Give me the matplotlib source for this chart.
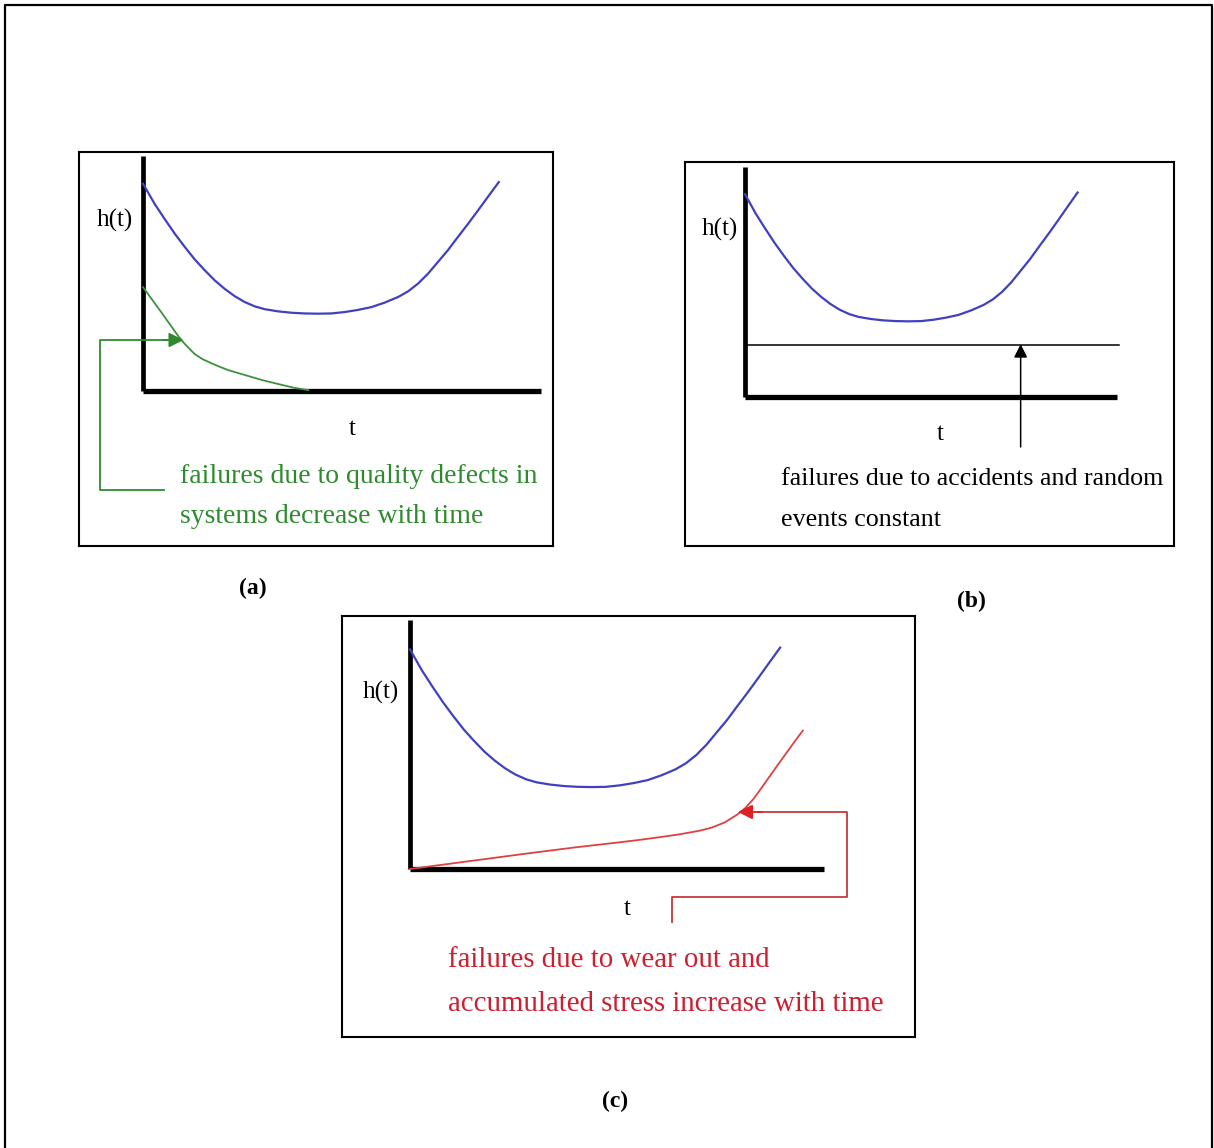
import matplotlib
matplotlib.use("Agg")
import matplotlib.pyplot as plt
from matplotlib.lines import Line2D

# ---- data (t and h in axis units: each drawn axis runs from 0 to 10) ----
# bathtub hazard curve, common to all three panels
bathtub_t = [0.0, 0.29, 0.54, 0.80, 1.05, 1.30, 1.55, 1.80, 2.05, 2.30,
             2.55, 2.81, 3.06, 3.39, 3.73, 4.06, 4.40, 4.73, 5.07, 5.40,
             5.74, 6.07, 6.41, 6.66, 6.91, 7.16, 7.41, 7.66, 7.91, 8.17,
             8.42, 8.67, 8.94]
bathtub_h = [8.82, 7.97, 7.33, 6.69, 6.13, 5.60, 5.14, 4.71, 4.35, 4.04,
             3.79, 3.60, 3.48, 3.39, 3.33, 3.30, 3.29, 3.30, 3.36, 3.45,
             3.57, 3.76, 4.00, 4.24, 4.57, 4.99, 5.49, 5.99, 6.55, 7.12,
             7.69, 8.27, 8.89]

# (a) early failures from quality defects, decreasing with time
defects_t = [0.0, 0.25, 0.46, 0.67, 0.88, 1.00, 1.09, 1.20, 1.30, 1.50,
             1.72, 1.93, 2.14, 2.56, 2.98, 3.39, 3.81, 4.15]
defects_h = [4.42, 3.84, 3.35, 2.85, 2.35, 2.10, 1.93, 1.74, 1.57, 1.35,
             1.18, 1.03, 0.89, 0.68, 0.47, 0.30, 0.13, 0.04]

# (b) random failures, constant rate
random_t = [0.0, 10.05]
random_h = [2.26, 2.26]

# (c) wear-out failures, increasing with time
wear_t = [0.0, 1.0, 2.0, 3.0, 4.0, 5.0, 5.5, 6.0, 6.5, 7.0,
          7.3, 7.6, 7.9, 8.1, 8.3, 8.5, 8.7, 8.9, 9.1, 9.3, 9.49]
wear_h = [0.0, 0.22, 0.44, 0.66, 0.87, 1.06, 1.16, 1.27, 1.39, 1.54,
          1.67, 1.87, 2.18, 2.45, 2.82, 3.28, 3.75, 4.22, 4.68, 5.14, 5.56]

axis_len = 10.0

captions = {
    "a": ["failures due to quality defects in", "systems decrease with time"],
    "b": ["failures due to accidents and random", "events constant"],
    "c": ["failures due to wear out and", "accumulated stress increase with time"],
}

# ---- styling ----
W, H = 1214, 1148
SERIF = ["Liberation Serif", "DejaVu Serif"]
BLUE = "#4040c0"
GREEN_LINE = "#3f8f3f"
GREEN_PATH = "#2f8a2f"
GREEN_TEXT = "#2f8a2f"
RED_LINE = "#e04040"
RED_PATH = "#c83838"
RED_HEAD = "#e02020"
RED_TEXT = "#cc2030"

fig = plt.figure(figsize=(W / 100, H / 100), dpi=100)
fig.patch.set_facecolor("white")

# outer frame (left, top, right)
fig.add_artist(Line2D([5 / W, 5 / W, 1212 / W, 1212 / W],
                      [0, 1 - 5 / H, 1 - 5 / H, 0],
                      transform=fig.transFigure, color="black", lw=1.6))


def make_panel(box, origin, axis_end):
    """Boxed panel whose drawn t/h axes span 0..10 between origin and axis_end."""
    left, top, right, bottom = box
    ox, oy = origin
    xe, yt = axis_end
    ax = fig.add_axes([left / W, 1 - bottom / H, (right - left) / W, (bottom - top) / H])
    sx = (xe - ox) / axis_len
    sy = (oy - yt) / axis_len
    ax.set_xlim((left - ox) / sx, (right - ox) / sx)
    ax.set_ylim((oy - bottom) / sy, (oy - top) / sy)
    ax.set_xticks([])
    ax.set_yticks([])
    for sp in ax.spines.values():
        sp.set_linewidth(1.5)
        sp.set_color("black")
    # thick t and h axes
    ax.plot([0, 0], [0, axis_len], color="black", lw=3.4, solid_capstyle="butt")
    ax.plot([0, axis_len], [0, 0], color="black", lw=3.8, solid_capstyle="butt")
    ax.plot(bathtub_t, bathtub_h, color=BLUE, lw=1.6)
    return ax


def axis_labels(ax, hx, hy, tx, ty):
    ax.text(hx, hy, "h(t)", ha="center", va="baseline", fontsize=18,
            family=SERIF, color="black")
    ax.text(tx, ty, "t", ha="center", va="baseline", fontsize=18,
            family=SERIF, color="black")


def caption(ax, key, x, y1, y2, color, size):
    l1, l2 = captions[key]
    ax.text(x, y1, l1, ha="left", va="baseline", fontsize=size, family=SERIF, color=color)
    ax.text(x, y2, l2, ha="left", va="baseline", fontsize=size, family=SERIF, color=color)


# ---- panel (a) ----
ax_a = make_panel((79, 152, 553, 546), (143, 391), (541, 156))
ax_a.plot(defects_t, defects_h, color=GREEN_LINE, lw=1.3)
ax_a.plot([0.53, -1.08, -1.08, 0.6], [-4.21, -4.21, 2.17, 2.17], color=GREEN_PATH, lw=1.3)
ax_a.annotate("", xy=(1.02, 2.17), xytext=(0.5, 2.17),
              arrowprops=dict(arrowstyle="-|>", color=GREEN_PATH, lw=1.3,
                              mutation_scale=22, shrinkA=0, shrinkB=0))
axis_labels(ax_a, -0.70, 6.98, 5.25, -1.87)
caption(ax_a, "a", 0.93, -3.91, -5.62, GREEN_TEXT, 20)

# ---- panel (b) ----
ax_b = make_panel((685, 162, 1174, 546), (745, 397), (1117, 167))
ax_b.plot(random_t, random_h, color="black", lw=1.1)
ax_b.annotate("", xy=(7.41, 2.30), xytext=(7.41, -2.17),
              arrowprops=dict(arrowstyle="-|>", color="black", lw=1.1,
                              mutation_scale=20, shrinkA=0, shrinkB=0))
axis_labels(ax_b, -0.67, 7.04, 5.24, -1.87)
caption(ax_b, "b", 0.97, -3.83, -5.61, "black", 18.7)

# ---- panel (c) ----
ax_c = make_panel((342, 616, 915, 1037), (410, 869), (824, 620))
ax_c.plot(wear_t, wear_h, color=RED_LINE, lw=1.3)
ax_c.plot([6.33, 6.33, 10.56, 10.56, 8.4], [-2.13, -1.12, -1.12, 2.29, 2.29],
          color=RED_PATH, lw=1.3)
ax_c.annotate("", xy=(7.92, 2.29), xytext=(8.5, 2.29),
              arrowprops=dict(arrowstyle="-|>", color=RED_HEAD, lw=1.3,
                              mutation_scale=22, shrinkA=0, shrinkB=0))
axis_labels(ax_c, -0.70, 6.85, 5.24, -1.85)
caption(ax_c, "c", 0.92, -3.94, -5.70, RED_TEXT, 20.8)

# ---- panel letters ----
for letter, (px, py) in {"(a)": (253, 588), "(b)": (971, 601), "(c)": (615, 1101)}.items():
    fig.text(px / W, 1 - py / H, letter, ha="center", va="center",
             fontsize=17, fontweight="bold", family=SERIF, color="black")

fig.savefig("out.png", dpi=100, facecolor="white")
